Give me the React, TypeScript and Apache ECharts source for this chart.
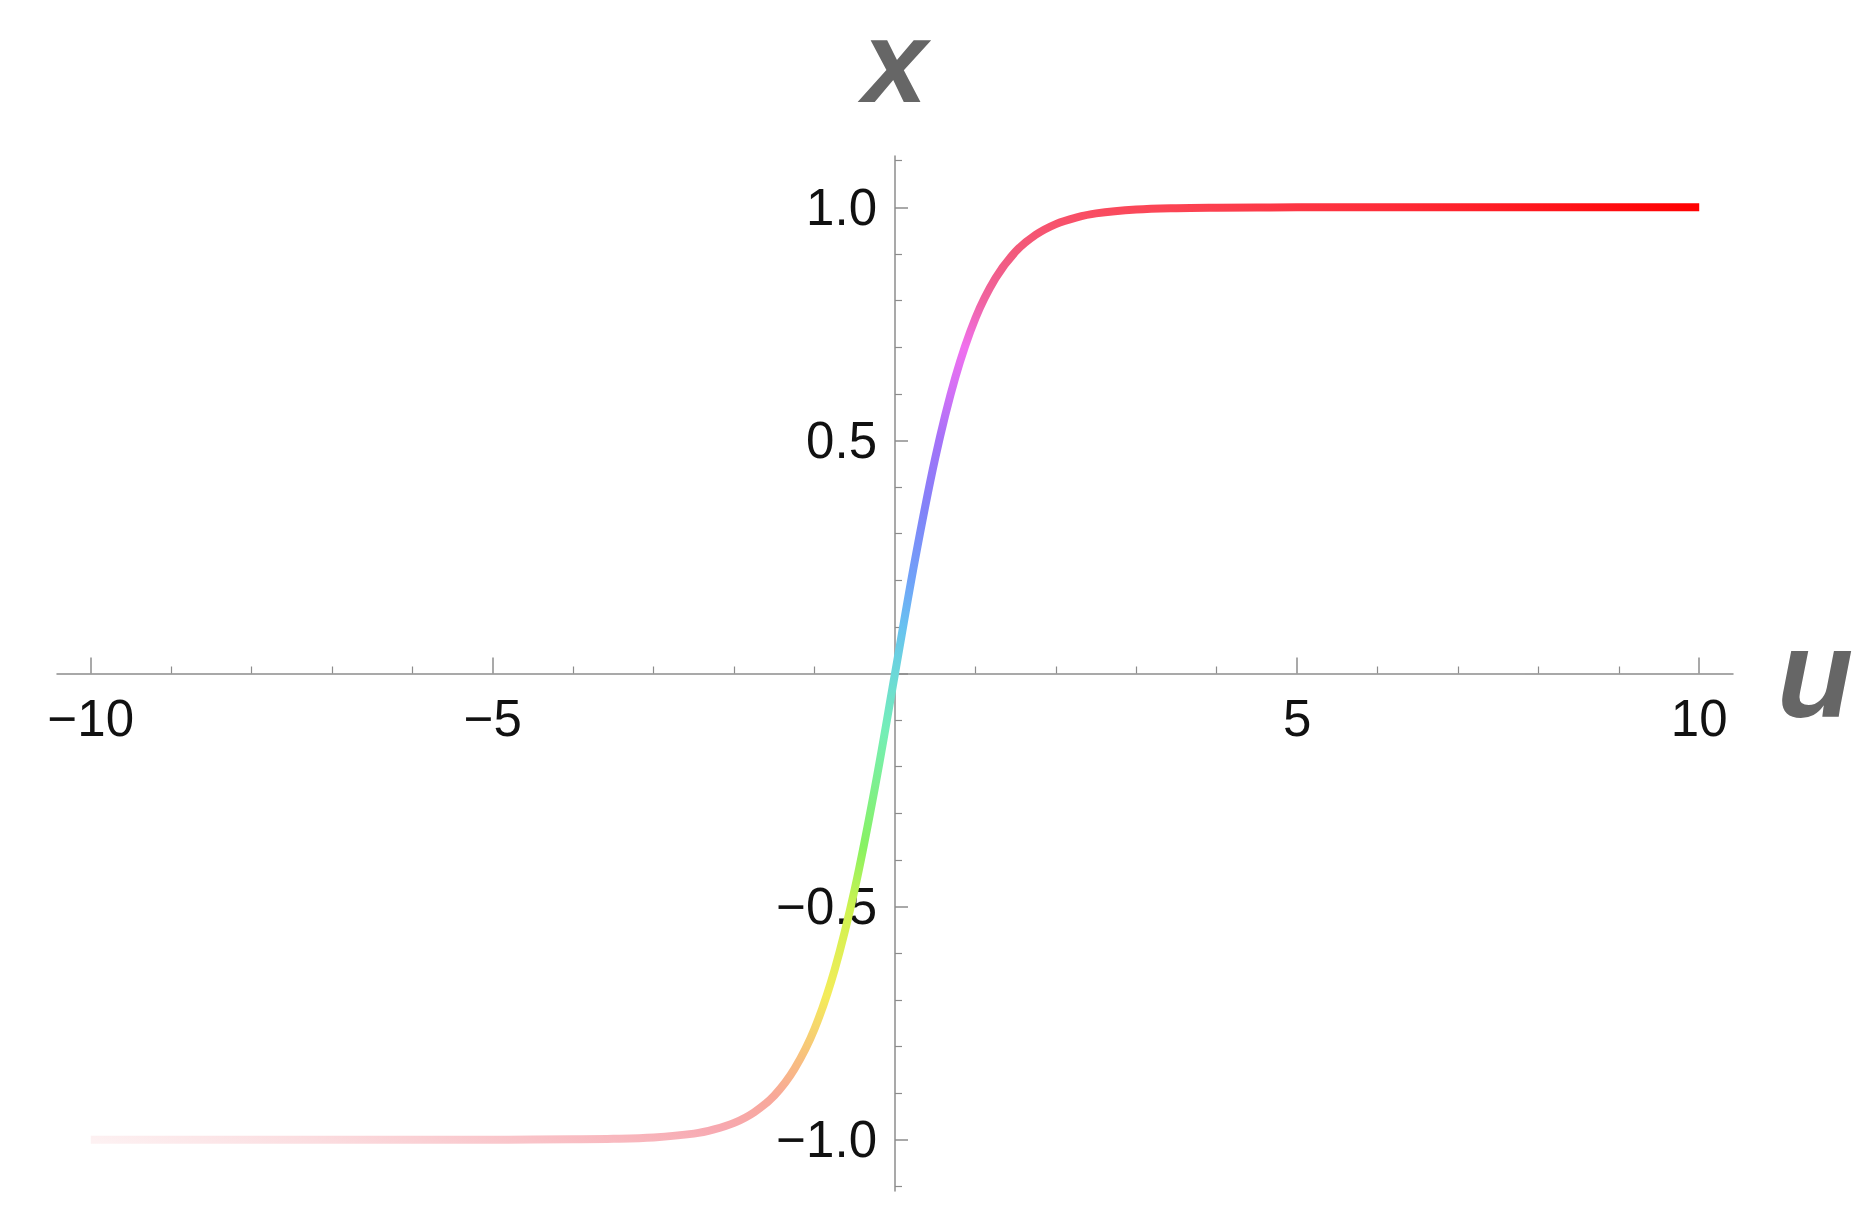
import React, { useEffect, useRef } from 'react';
import * as echarts from 'echarts';

// values
const U = [-10, -8, -6, -5, -4, -3.5, -3, -2.5, -2.25, -2, -1.75, -1.5, -1.25, -1, -0.75, -0.5, -0.25, 0, 0.25, 0.5, 0.75, 1, 1.25, 1.5, 1.75, 2, 2.25, 2.5, 3, 3.5, 4, 5, 6, 8, 10];
const X = [-1.0, -1.0, -1.0, -1.0, -0.999, -0.998, -0.995, -0.987, -0.978, -0.964, -0.941, -0.905, -0.848, -0.762, -0.635, -0.462, -0.245, 0, 0.245, 0.462, 0.635, 0.762, 0.848, 0.905, 0.941, 0.964, 0.978, 0.987, 0.995, 0.998, 0.999, 1.0, 1.0, 1.0, 1.0];

const X_TICKS = [-10, -5, 0, 5, 10];
const X_LABELS = [-10, -5, 5, 10];
const Y_TICKS = [-1, -0.5, 0, 0.5, 1];
const Y_LABELS = [-1, -0.5, 0.5, 1];

const STOP_POS = [0, 0.05, 0.1, 0.15, 0.185, 0.215, 0.265, 0.33, 0.375, 0.46, 0.5, 0.533, 0.567, 0.618, 0.669, 0.703, 0.738, 0.774, 0.813, 0.85, 0.875, 0.93, 1];
const STOP_COLORS = ['#fdf1f2', '#fbdde0', '#f9c3c8', '#f7a8b0', '#f8a898', '#f8be80', '#f4ec5a', '#cef250', '#88f262', '#74eeb8', '#6cd8d8', '#68c2f0', '#70a2f8', '#8282f8', '#a472f8', '#d070f6', '#f070ee', '#f064a0', '#f25a7c', '#f85068', '#fb4656', '#fe2c38', '#ff0000'];

const AXIS_COLOR = '#8c8c8c';
const NAME_COLOR = '#666666';

const X_MIN = -10.42;
const X_MAX = 10.42;
const Y_MIN = -1.11;
const Y_MAX = 1.11;

export default function App() {
  const ref = useRef<HTMLDivElement>(null);
  useEffect(() => {
    const chart = echarts.init(ref.current!, null, { renderer: 'svg' });
    const data = U.map((u, i) => [u, X[i]]);
    const fmt = (v: number, d: number) => (v < 0 ? '\u2212' : '') + Math.abs(v).toFixed(d);
    const near = (arr: number[], v: number) => arr.some((a) => Math.abs(a - v) < 1e-6);
    const option: any = {
      animation: false,
      backgroundColor: '#ffffff',
      grid: { left: 57, top: 156, width: 1676, height: 1035, containLabel: false, outerBoundsMode: 'none' },
      xAxis: {
        type: 'value',
        min: X_MIN,
        max: X_MAX,
        position: 'bottom',
        name: 'u',
        nameLocation: 'end',
        nameGap: 44,
        nameTextStyle: {
          fontFamily: 'Liberation Sans',
          fontWeight: 'bold',
          fontStyle: 'italic',
          fontSize: 125,
          lineHeight: 110,
          color: NAME_COLOR,
          verticalAlign: 'middle',
          padding: [36, 0, 0, 0],
        },
        axisLine: { show: true, onZero: false, lineStyle: { color: AXIS_COLOR, width: 1.5 } },
        axisTick: { show: true, inside: true, length: 16, customValues: X_TICKS, lineStyle: { color: AXIS_COLOR, width: 1.5 } },
        minorTick: { show: true, splitNumber: 5, length: 7, lineStyle: { color: AXIS_COLOR, width: 1.2 } },
        axisLabel: {
          show: true,
          customValues: X_LABELS,
          margin: 19,
          fontFamily: 'Liberation Sans',
          fontSize: 51,
          color: '#111111',
          formatter: (v: number) => (near(X_LABELS, v) ? fmt(v, 0) : ''),
        },
        splitLine: { show: false },
      },
      yAxis: {
        type: 'value',
        min: Y_MIN,
        max: Y_MAX,
        position: 'left',
        name: 'x',
        nameLocation: 'end',
        nameGap: 44,
        nameTextStyle: {
          fontFamily: 'Liberation Sans',
          fontWeight: 'bold',
          fontStyle: 'italic',
          fontSize: 116,
          lineHeight: 100,
          color: NAME_COLOR,
          align: 'center',
        },
        axisLine: { show: true, onZero: false, lineStyle: { color: AXIS_COLOR, width: 1.5 } },
        axisTick: { show: true, inside: true, length: 13, customValues: Y_TICKS, lineStyle: { color: AXIS_COLOR, width: 1.5 } },
        minorTick: { show: true, splitNumber: 5, length: 7, lineStyle: { color: AXIS_COLOR, width: 1.2 } },
        axisLabel: {
          show: true,
          customValues: Y_LABELS,
          margin: 18,
          fontFamily: 'Liberation Sans',
          fontSize: 51,
          color: '#111111',
          formatter: (v: number) => (near(Y_LABELS, v) ? fmt(v, 1) : ''),
        },
        splitLine: { show: false },
      },
      series: [
        {
          type: 'line',
          data,
          smooth: 0.35,
          showSymbol: false,
          symbol: 'none',
          lineStyle: { width: 8, color: '#ff0000' },
        },
      ],
    };
    chart.setOption(option);
    // move both axes so that they cross at the origin
    const pO = chart.convertToPixel({ gridIndex: 0 }, [0, 0]) as number[];
    const pMin = chart.convertToPixel({ gridIndex: 0 }, [X_MIN, Y_MIN]) as number[];
    const xOffset = -(pMin[1] - pO[1]);
    const yOffset = -(pO[0] - pMin[0]);

    const p0 = chart.convertToPixel({ gridIndex: 0 }, data[0]) as number[];
    const p1 = chart.convertToPixel({ gridIndex: 0 }, data[data.length - 1]) as number[];
    const k = 3;
    const dx = p1[0] - p0[0];
    const dy = p0[1] - p1[1];
    const lam = (dx + k * dy) / (1 + k * k);
    const stops = STOP_POS.map((o, i) => ({ offset: o, color: STOP_COLORS[i] }));
    const grad = new echarts.graphic.LinearGradient(p0[0], p0[1], p0[0] + lam, p0[1] - k * lam, stops, true);
    chart.setOption({
      xAxis: { offset: xOffset },
      yAxis: { offset: yOffset },
      series: [{ lineStyle: { width: 8, color: grad } }],
    });
    return () => chart.dispose();
  }, []);
  return <div ref={ref} style={{ position: 'fixed', left: 0, top: 0, width: 1861, height: 1229 }} />;
}
